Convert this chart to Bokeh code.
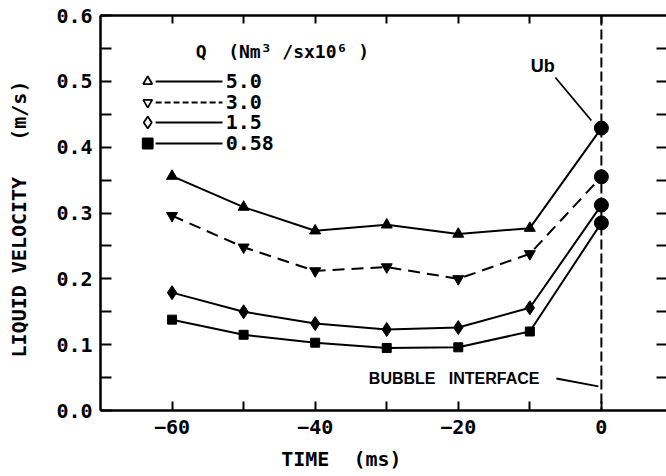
from bokeh.plotting import figure
from bokeh.models import (Range1d, FixedTicker, LinearAxis, PrintfTickFormatter,
                          Span, Label)
from bokeh.embed import file_html
from bokeh.resources import INLINE

# ---------------- data ----------------
TIME_MS = [-60, -50, -40, -30, -20, -10, 0]
Q_LABELS = ["5.0", "3.0", "1.5", "0.58"]
U_Q50 = [0.356, 0.309, 0.273, 0.282, 0.268, 0.277, 0.429]
U_Q30 = [0.296, 0.248, 0.212, 0.218, 0.200, 0.238, 0.355]
U_Q15 = [0.179, 0.150, 0.132, 0.123, 0.126, 0.156, 0.312]
U_Q058 = [0.138, 0.115, 0.103, 0.095, 0.096, 0.120, 0.285]
X_TICKS = [-60, -40, -20, 0]
X_MINOR = [-50, -30, -10]
Y_TICKS = [0.0, 0.1, 0.2, 0.3, 0.4, 0.5, 0.6]
Y_MINOR = [0.05, 0.15, 0.25, 0.35, 0.45, 0.55]
RIGHT_TICKS = [0.05, 0.10, 0.15, 0.20, 0.25, 0.30, 0.35, 0.40, 0.45, 0.50, 0.55]

SERIES = [U_Q50, U_Q30, U_Q15, U_Q058]
MARKERS = ["triangle", "inverted_triangle", "diamond", "square"]
DASHES = ["solid", "12 7", "solid", "solid"]
MSIZE = [11, 11, 14, 9]

MONO = "DejaVu Sans Mono"
SANS = "Liberation Sans"
NB = "\u00a0"

p = figure(width=666, height=476, output_backend="svg", toolbar_location=None,
           x_range=Range1d(-70, 9.1), y_range=Range1d(0, 0.6),
           min_border_left=100, min_border_right=0, min_border_top=15,
           min_border_bottom=66)
p.grid.visible = False
p.outline_line_color = None
p.background_fill_color = "white"
p.border_fill_color = "white"


def style_axis(ax, tick_in):
    ax.axis_line_width = 2.5
    ax.axis_line_color = "black"
    ax.major_tick_in = tick_in
    ax.major_tick_out = 0
    ax.minor_tick_in = tick_in
    ax.minor_tick_out = 0
    ax.major_tick_line_width = 2
    ax.minor_tick_line_width = 2
    ax.major_tick_line_color = "black"
    ax.minor_tick_line_color = "black"
    ax.major_label_text_font = MONO
    ax.major_label_text_font_style = "bold"
    ax.major_label_text_font_size = "20px"
    ax.major_label_text_color = "black"
    ax.axis_label_text_font = MONO
    ax.axis_label_text_font_style = "bold"
    ax.axis_label_text_font_size = "20px"
    ax.axis_label_text_color = "black"


def hide_labels(ax):
    ax.major_label_text_font_size = "1px"
    ax.major_label_text_color = None
    ax.major_label_text_alpha = 0
    ax.major_label_standoff = 0


xax = p.xaxis[0]
xax.ticker = FixedTicker(ticks=X_TICKS, minor_ticks=X_MINOR)
style_axis(xax, 9)
xax.major_label_standoff = 9
xax.axis_label = "TIME" + NB * 2 + "(ms)" + NB * 7
xax.axis_label_standoff = 10

yax = p.yaxis[0]
yax.ticker = FixedTicker(ticks=Y_TICKS, minor_ticks=Y_MINOR)
yax.formatter = PrintfTickFormatter(format="%.1f")
style_axis(yax, 11)
yax.major_label_standoff = 8
yax.axis_label = "LIQUID" + NB + "VELOCITY" + NB * 3 + "(m/s)" + NB
yax.axis_label_standoff = 22

top = LinearAxis(ticker=FixedTicker(ticks=X_TICKS, minor_ticks=X_MINOR))
style_axis(top, 8)
hide_labels(top)
p.add_layout(top, "above")

right = LinearAxis(ticker=FixedTicker(ticks=RIGHT_TICKS, minor_ticks=[]))
style_axis(right, 10)
right.axis_line_color = None
hide_labels(right)
p.add_layout(right, "right")

# bubble interface line
p.add_layout(Span(location=0, dimension="height", line_color="black",
                  line_width=2, line_dash="10 4"))

# series
for vals, mk, dash, ms in zip(SERIES, MARKERS, DASHES, MSIZE):
    p.line(TIME_MS, vals, line_color="black", line_width=2, line_dash=dash)
    p.scatter(TIME_MS[:-1], vals[:-1], marker=mk, size=ms,
              fill_color="black", line_color="black")
    p.scatter(TIME_MS[-1:], vals[-1:], marker="circle", size=14,
              fill_color="black", line_color="black")

# legend (hand-drawn like the original)
LEG_MARK_X = -63.4
LEG_LINE_X0, LEG_LINE_X1 = -62.3, -52.95
LEG_TEXT_X = -52.5
LEG_ROWS_Y = [0.4998, 0.4679, 0.4375, 0.4056]
LEG_FILL = [None, None, None, "black"]
LEG_MSIZE = [9, 9, 12, 10]
p.add_layout(Label(x=-56.7, y=0.5453, text="Q" + NB * 2 + "(Nm³" + NB + "/sx10⁶" + NB + ")",
                   text_font=MONO, text_font_style="bold", text_font_size="18px",
                   text_baseline="middle", text_align="left", text_color="black"))
for lab, mk, dash, yy, fc, ms in zip(Q_LABELS, MARKERS, DASHES, LEG_ROWS_Y, LEG_FILL, LEG_MSIZE):
    p.segment(x0=[LEG_LINE_X0], y0=[yy], x1=[LEG_LINE_X1], y1=[yy],
              line_color="black", line_width=2,
              line_dash=("6 3" if dash != "solid" else "solid"))
    p.scatter([LEG_MARK_X], [yy], marker=mk, size=ms, fill_color=fc,
              line_color="black", line_width=1.8)
    p.add_layout(Label(x=LEG_TEXT_X, y=yy, text=lab, text_font=MONO,
                       text_font_style="bold", text_font_size="20px",
                       text_baseline="middle", text_align="left",
                       text_color="black"))

# annotations
p.add_layout(Label(x=-8.2, y=0.5226, text="Ub", text_font=SANS,
                   text_font_style="bold", text_font_size="18px",
                   text_baseline="middle", text_align="center", text_color="black"))
p.segment(x0=[-6.43], y0=[0.5058], x1=[-1.40], y1=[0.4405],
          line_color="black", line_width=1.8)
p.add_layout(Label(x=-32.5, y=0.0486, text="BUBBLE" + NB * 3 + "INTERFACE",
                   text_font=SANS, text_font_style="bold", text_font_size="16px",
                   text_baseline="middle", text_align="left", text_color="black"))
p.segment(x0=[-6.29], y0=[0.0486], x1=[-0.42], y1=[0.0365],
          line_color="black", line_width=1.8)

open("out.html", "w").write(file_html(p, INLINE))
